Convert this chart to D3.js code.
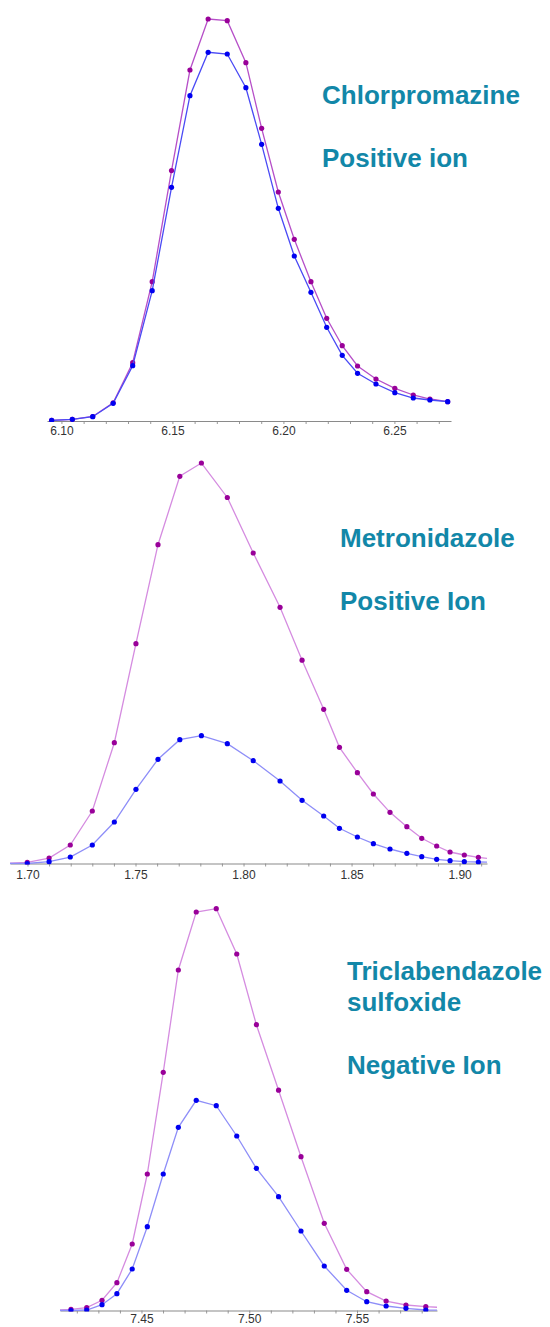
<!DOCTYPE html>
<html>
<head>
<meta charset="utf-8">
<script src="https://cdn.jsdelivr.net/npm/d3@7"></script>
<style>
  body { margin: 0; background: #fff; }
  svg { display: block; }
  .tick text { font-family: "Liberation Sans", Arial, sans-serif; font-size: 12px; fill: #333; }
  .title { font-family: "Liberation Sans", Arial, sans-serif; font-weight: bold; font-size: 26px; fill: #1287a8; }
</style>
</head>
<body>
<svg id="chart"></svg>
<script>
// ---- data (retention time, min / relative intensity) ----
// Chlorpromazine, positive ion
const chlorTime = [6.0956, 6.1049, 6.1141, 6.1233, 6.1321, 6.1409, 6.1496, 6.1579, 6.1661, 6.1747, 6.1831, 6.1902,
  6.1977, 6.2049, 6.2124, 6.2195, 6.2265, 6.2334, 6.2417, 6.2502, 6.2585, 6.2660, 6.2740];
const chlorMagenta = [0.17, 0.42, 1.12, 4.53, 14.5, 34.65, 62.29, 87.31, 100, 99.58, 89.13, 72.81,
  56.97, 45.2, 34.65, 25.55, 18.73, 13.68, 10.45, 8.13, 6.47, 5.47, 4.8];
const chlorBlue = [0.17, 0.42, 1.07, 4.4, 13.76, 32.41, 58.13, 80.92, 91.72, 91.29, 82.91, 68.83,
  52.91, 41.04, 32.01, 23.31, 16.34, 11.87, 9.2, 7.04, 5.72, 5.22, 4.8];
const chlorTicks = [6.10, 6.15, 6.20, 6.25];

// Metronidazole, positive ion
const metroTime = [1.6899, 1.6999, 1.7100, 1.7198, 1.7300, 1.7402, 1.7502, 1.7604, 1.7705, 1.7805, 1.7925, 1.8045,
  1.8169, 1.8271, 1.8371, 1.8444, 1.8527, 1.8601, 1.8678, 1.8756, 1.8825, 1.8894, 1.8956, 1.9022, 1.9087, 1.9150];
const metroMagenta = [0.05, 0.3, 1.37, 4.62, 13.11, 30.16, 54.88, 79.6, 96.68, 100, 91.39, 77.53,
  63.97, 50.76, 38.5, 29.01, 22.67, 17.35, 12.78, 9.19, 6.29, 4.37, 2.87, 2.12, 1.55, 1.15];
const metroBlue = [0, 0, 0.45, 1.62, 4.62, 10.36, 18.53, 26.02, 30.91, 31.91, 29.91, 25.67,
  20.6, 15.78, 11.86, 8.79, 6.62, 4.94, 3.62, 2.55, 1.7, 1.05, 0.7, 0.45, 0.37, 0.3];
const metroTicks = [1.70, 1.75, 1.80, 1.85, 1.90];

// Triclabendazole sulfoxide, negative ion
const triclaTime = [7.4099, 7.4173, 7.4246, 7.4317, 7.4386, 7.4457, 7.4527, 7.4601, 7.4671, 7.4754, 7.4847, 7.4942,
  7.5033, 7.5136, 7.5240, 7.5348, 7.5452, 7.5545, 7.5635, 7.5727, 7.5819, 7.5908];
const triclaMagenta = [0.1, 0.3, 0.7, 2.54, 6.92, 16.55, 33.97, 59.28, 84.74, 99.18, 100, 88.73,
  71.13, 54.83, 38.28, 21.7, 10.25, 4.68, 2.36, 1.37, 0.95, 0.7];
const triclaBlue = [0, 0, 0.12, 1.44, 4.18, 10.33, 20.86, 33.97, 45.59, 52.31, 50.97, 43.43,
  35.39, 28.32, 19.79, 11.08, 5.03, 2.19, 1.12, 0.55, 0.12, 0.05];
const triclaTicks = [7.45, 7.50, 7.55];

// ---- layout ----
const width = 550, height = 1327;
const svg = d3.select('#chart').attr('width', width).attr('height', height);

const panels = [
  { id: 'chlor', time: chlorTime, magenta: chlorMagenta, blue: chlorBlue, ticks: chlorTicks,
    domain: [6.0935, 6.2755], left: 47, right: 451, top: 19, bottom: 421, labelPad: 5.5,
    magentaLine: '#b64fc8', blueLine: '#4a4af5',
    titles: [{ t: 'Chlorpromazine', x: 322, y: 104 }, { t: 'Positive ion', x: 322, y: 166.5 }] },
  { id: 'metro', time: metroTime, magenta: metroMagenta, blue: metroBlue, ticks: metroTicks,
    domain: [1.6919, 1.9127], left: 10, right: 487, top: 463, bottom: 863.5, labelPad: 7,
    magentaLine: '#d58ce0', blueLine: '#8e8ef8',
    titles: [{ t: 'Metronidazole', x: 340, y: 547 }, { t: 'Positive Ion', x: 340, y: 610 }] },
  { id: 'tricla', time: triclaTime, magenta: triclaMagenta, blue: triclaBlue, ticks: triclaTicks,
    domain: [7.4122, 7.5871], left: 60, right: 437, top: 908.7, bottom: 1310.5, labelPad: 4,
    magentaLine: '#d58ce0', blueLine: '#8e8ef8',
    titles: [{ t: 'Triclabendazole', x: 347, y: 980 }, { t: 'sulfoxide', x: 347, y: 1011 },
             { t: 'Negative Ion', x: 347, y: 1074 }] }
];

panels.forEach(p => {
  const x = d3.scaleLinear().domain(p.domain).range([p.left, p.right]);
  const y = d3.scaleLinear().domain([0, 100]).range([p.bottom, p.top]);
  const g = svg.append('g').attr('class', 'panel-' + p.id);

  g.append('clipPath').attr('id', 'clip-' + p.id)
    .append('rect')
      .attr('x', p.left).attr('y', 0)
      .attr('width', p.right - p.left).attr('height', p.bottom + 1);

  // minor ticks every 0.01
  const minor = d3.range(Math.ceil(p.domain[0] * 100), Math.floor(p.domain[1] * 100) + 1).map(d => d / 100);
  g.append('g')
    .attr('transform', `translate(0,${p.bottom})`)
    .call(d3.axisBottom(x).tickValues(minor).tickSize(3).tickFormat(''))
    .call(a => a.select('.domain').remove())
    .call(a => a.selectAll('line').attr('stroke', '#999'));

  // main axis with labels
  g.append('g')
    .attr('transform', `translate(0,${p.bottom})`)
    .call(d3.axisBottom(x).tickValues(p.ticks).tickSize(0).tickSizeOuter(0)
      .tickPadding(p.labelPad).tickFormat(d3.format('.2f')))
    .call(a => a.select('.domain').attr('stroke', '#8a8a8a').attr('stroke-width', 1.2));

  const series = [
    { vals: p.magenta, line: p.magentaLine, dot: '#990099' },
    { vals: p.blue, line: p.blueLine, dot: '#0000f0' }
  ];
  const plot = g.append('g').attr('clip-path', `url(#clip-${p.id})`);
  series.forEach(s => {
    const pts = p.time.map((t, i) => [t, s.vals[i]]);
    plot.append('path')
      .datum(pts)
      .attr('fill', 'none')
      .attr('stroke', s.line)
      .attr('stroke-width', 1.3)
      .attr('d', d3.line().x(d => x(d[0])).y(d => y(d[1])));
    plot.selectAll(null)
      .data(pts)
      .join('circle')
        .attr('cx', d => x(d[0]))
        .attr('cy', d => y(d[1]))
        .attr('r', 2.6)
        .attr('fill', s.dot);
  });

  p.titles.forEach(tt => {
    svg.append('text').attr('class', 'title')
      .attr('x', tt.x).attr('y', tt.y)
      .text(tt.t);
  });
});
</script>
</body>
</html>
